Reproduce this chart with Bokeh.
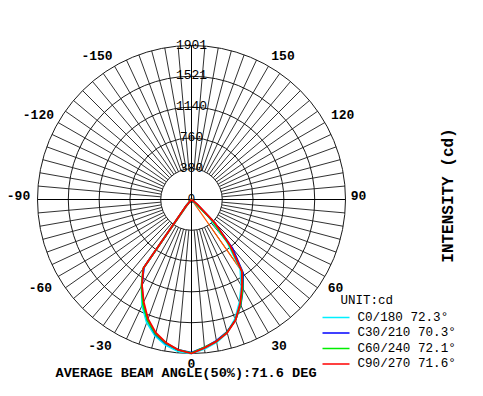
import numpy as np
from bokeh.plotting import figure
from bokeh.models import Range1d
from bokeh.embed import file_html
from bokeh.resources import INLINE
from bokeh.core.properties import value

# ---------------- data ----------------
ring_values = [380, 760, 1140, 1521, 1901]
ring_label_values = [0, 380, 760, 1140, 1521, 1901]
ring_labels = ["0", "380", "760", "1140", "1521", "1901"]
angle_ticks = [0, 30, 60, 90, 120, 150, -30, -60, -90, -120, -150]
angle_labels = ["0", "30", "60", "90", "120", "150", "-30", "-60", "-90", "-120", "-150"]

gamma = [0, 5, 10, 15, 20, 25, 30, 35, 40, 45, 50, 55, 60, 65, 70, 75, 80, 85, 90]

# intensities (cd); "right" = positive angles, "left" = negative angles
c0_right = [1901, 1852, 1790, 1703, 1568, 1401, 1228, 1049, 679, 296, 0, 0, 0, 0, 0, 0, 0, 0, 0]
c0_left = [1901, 1882, 1827, 1741, 1617, 1444, 1234, 1025, 99, 0, 0, 0, 0, 0, 0, 0, 0, 0, 0]
c30_right = [1889, 1833, 1771, 1691, 1586, 1438, 1271, 1111, 790, 395, 74, 0, 0, 0, 0, 0, 0, 0, 0]
c30_left = [1889, 1864, 1808, 1722, 1586, 1413, 1222, 1025, 111, 0, 0, 0, 0, 0, 0, 0, 0, 0, 0]
c60_right = [1889, 1833, 1778, 1697, 1586, 1432, 1265, 1092, 716, 346, 49, 0, 0, 0, 0, 0, 0, 0, 0]
c60_left = [1895, 1864, 1802, 1716, 1586, 1420, 1234, 1043, 111, 0, 0, 0, 0, 0, 0, 0, 0, 0, 0]
c90_right = [1901, 1839, 1778, 1703, 1586, 1420, 1247, 1086, 741, 407, 99, 0, 0, 0, 0, 0, 0, 0, 0]
c90_left = [1901, 1864, 1796, 1703, 1568, 1395, 1222, 1037, 123, 0, 0, 0, 0, 0, 0, 0, 0, 0, 0]
# short cut-off trace
cut_angles = [-35, -40, 40, 35]
cut_values = [1037, 0, 0, 1086]

series_names = ["C0/180", "C30/210", "C60/240", "C90/270"]
beam_angles = ["72.3°", "70.3°", "72.1°", "71.6°"]
series_colors = ["#00F0FF", "#0000FF", "#00EE00", "#FF0000"]
avg_beam = "71.6"

# ---------------- geometry ----------------
W, H = 467, 380
CX, CY = 191, 199          # centre in picture pixels
PX = 154                   # pixels for 1901 cd
U = 1901 / PX              # cd per pixel


def X(px):
    return (px - CX) * U


def Y(py):
    return (CY - py) * U


def polar(ang_deg, val):
    a = np.radians(np.asarray(ang_deg, dtype=float))
    v = np.asarray(val, dtype=float)
    return v * np.sin(a), -v * np.cos(a)


p = figure(width=W, height=H,
           x_range=Range1d(X(0), X(W)), y_range=Range1d(Y(H), Y(0)),
           output_backend="svg", toolbar_location=None, min_border=0,
           x_axis_location=None, y_axis_location=None)
p.grid.visible = False
p.outline_line_color = None
p.background_fill_color = "white"

R0 = ring_values[0]
R1 = ring_values[-1]

# spokes
sp = [a for a in range(0, 360, 5) if a % 90 != 0]
sx0, sy0 = polar(sp, [R0] * len(sp))
sx1, sy1 = polar(sp, [R1] * len(sp))
p.segment(x0=sx0, y0=sy0, x1=sx1, y1=sy1, line_color="#1a1a1a", line_width=0.9)

# rings
p.circle(x=[0] * len(ring_values), y=[0] * len(ring_values), radius=ring_values,
         fill_color=None, line_color="#1a1a1a", line_width=1)

# main axes
p.segment(x0=[-R1, 0], y0=[0, -R1], x1=[R1, 0], y1=[0, R1], line_color="black", line_width=1)

# ring labels
p.text(x=[0] * len(ring_label_values),
       y=[v + 1.5 * U for v in ring_label_values],
       text=ring_labels, text_align="center", text_baseline="alphabetic",
       text_font=value("Liberation Mono"), text_font_size="13px", text_color="black")

# angle labels (placed around the rim, with small pixel nudges)
nudge = {0: (0, -7), 30: (2, -2), -30: (-6, -2), 60: (-4, 2), -60: (-3, 2),
         90: (-4, -4), -90: (-2, -4), 120: (3, 0), -120: (-5, 0), 150: (6, 4), -150: (-9, 4)}
RL = 171 * U
lx, ly = polar(angle_ticks, [RL] * len(angle_ticks))
lx = [x + nudge[a][0] * U for x, a in zip(lx, angle_ticks)]
ly = [y - nudge[a][1] * U for y, a in zip(ly, angle_ticks)]
p.text(x=lx, y=ly, text=angle_labels, text_align="center", text_baseline="middle",
       text_font=value("Liberation Mono"), text_font_size="13px", text_font_style="bold",
       text_color="black")

# curves
cut_x, cut_y = polar(cut_angles, cut_values)
p.line(cut_x, cut_y, line_color="#FF5A00", line_width=1.3)

curves = [(c0_left, c0_right), (c30_left, c30_right), (c60_left, c60_right), (c90_left, c90_right)]
for (lv, rv), col in zip(curves, series_colors):
    angs = [-g for g in gamma[::-1]] + gamma[1:]
    vals = lv[::-1] + rv[1:]
    cx_, cy_ = polar(angs, vals)
    p.line(cx_, cy_, line_color=col, line_width=1.8)

# legend
p.text(x=[X(340)], y=[Y(300)], text=["UNIT:cd"], text_align="left", text_baseline="middle",
       text_font=value("Liberation Mono"), text_font_size="12.5px", text_color="black")
leg_y = [317, 332.5, 348, 363.5]
p.segment(x0=[X(322)] * 4, x1=[X(349)] * 4, y0=[Y(v) for v in leg_y], y1=[Y(v) for v in leg_y],
          line_color=series_colors, line_width=1.3)
p.text(x=[X(357)] * 4, y=[Y(v) for v in leg_y],
       text=[f"{n} {b}" for n, b in zip(series_names, beam_angles)],
       text_align="left", text_baseline="middle",
       text_font=value("Liberation Mono"), text_font_size="12.6px", text_color="black")

# titles
p.text(x=[X(448)], y=[Y(195)], text=["INTENSITY (cd)"], angle=np.pi / 2,
       text_align="center", text_baseline="middle",
       text_font=value("Liberation Mono"), text_font_size="16px", text_font_style="bold",
       text_color="black")
p.text(x=[X(55)], y=[Y(372.5)], text=[f"AVERAGE BEAM ANGLE(50%):{avg_beam} DEG"],
       text_align="left", text_baseline="middle",
       text_font=value("Liberation Mono"), text_font_size="13.6px", text_font_style="bold",
       text_color="black")

open("out.html", "w").write(file_html(p, INLINE))
